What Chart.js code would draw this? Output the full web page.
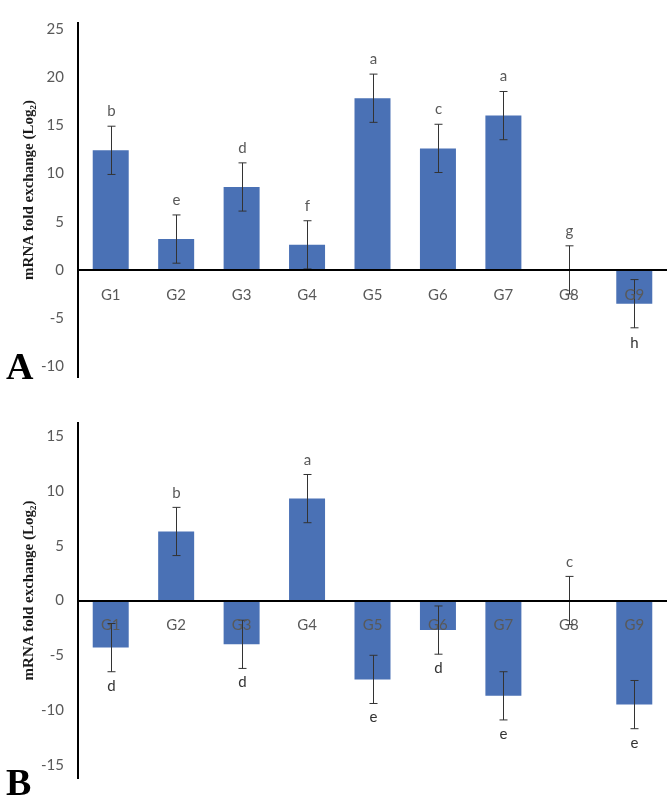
<!DOCTYPE html>
<html><head><meta charset="utf-8">
<script src="https://cdn.jsdelivr.net/npm/chart.js@4.4.0/dist/chart.umd.min.js"></script>
<style>
html,body{margin:0;padding:0;background:#fff;}
#wrap{position:relative;width:667px;height:801px;overflow:hidden;}
.box{position:absolute;left:0;width:667px;}
</style></head><body>
<div id="wrap">
<div class="box" style="top:0;height:400px"><canvas id="cA"></canvas></div>
<div class="box" style="top:400px;height:401px"><canvas id="cB"></canvas></div>
</div>
<script>
const categories = ['G1','G2','G3','G4','G5','G6','G7','G8','G9'];

const valuesA = [12.4, 3.2, 8.6, 2.6, 17.8, 12.6, 16.0, 0, -3.5];
const errorsA = [2.5, 2.5, 2.5, 2.5, 2.5, 2.5, 2.5, 2.5, 2.5];
const lettersA = ['b','e','d','f','a','c','a','g','h'];
const ticksA = [-10, -5, 0, 5, 10, 15, 20, 25];

const valuesB = [-4.3, 6.3, -4.0, 9.3, -7.2, -2.7, -8.7, 0, -9.5];
const errorsB = [2.2, 2.2, 2.2, 2.2, 2.2, 2.2, 2.2, 2.2, 2.2];
const lettersB = ['d','b','d','a','e','d','e','c','e'];
const ticksB = [-15, -10, -5, 0, 5, 10, 15];

const yTitle = 'mRNA fold exchange (Log\u2082)';

const BAR = '#4A71B5';
const TXT = '#595959';

function overlay(errors, letters, panelLabel, titleShift, letterOffset, labelBaseline) {
  return {
    id: 'overlay' + panelLabel,
    afterDatasetsDraw(chart) {
      const ctx = chart.ctx, xs = chart.scales.x, ys = chart.scales.y;
      const vals = chart.data.datasets[0].data;
      ctx.save();
      ctx.strokeStyle = '#333333';
      ctx.lineWidth = 1;
      vals.forEach((v, i) => {
        const x = Math.round(xs.getPixelForValue(i)) + 0.5;
        const yt = ys.getPixelForValue(v + errors[i]);
        const yb = ys.getPixelForValue(v - errors[i]);
        ctx.beginPath();
        ctx.moveTo(x, yt); ctx.lineTo(x, yb);
        ctx.moveTo(x - 4, yt); ctx.lineTo(x + 4, yt);
        ctx.moveTo(x - 4, yb); ctx.lineTo(x + 4, yb);
        ctx.stroke();
        ctx.font = '15px Lato';
        ctx.textAlign = 'center';
        ctx.textBaseline = 'middle';
        if (v >= 0) {
          ctx.fillStyle = TXT;
          ctx.fillText(letters[i], x, yt - letterOffset);
        } else {
          ctx.fillStyle = '#333333';
          ctx.fillText(letters[i], x, yb + letterOffset);
        }
      });
      ctx.restore();
    },
    afterDraw(chart) {
      const ctx = chart.ctx, ca = chart.chartArea;
      ctx.save();
      ctx.fillStyle = '#1a1a1a';
      ctx.font = 'bold 15px "Liberation Serif"';
      ctx.textAlign = 'center';
      ctx.textBaseline = 'middle';
      ctx.translate(29, (ca.top + ca.bottom) / 2 - titleShift);
      ctx.rotate(-Math.PI / 2);
      ctx.fillText(yTitle, 0, 0);
      ctx.restore();
      ctx.save();
      ctx.fillStyle = '#000';
      ctx.font = 'bold 38px "Liberation Serif"';
      ctx.textAlign = 'left';
      ctx.textBaseline = 'alphabetic';
      ctx.fillText(panelLabel, 6, labelBaseline);
      ctx.restore();
    }
  };
}

function makeChart(id, values, errors, letters, ticks, yMin, yMax, padBottom, panelLabel, letterOffset, labelBaseline) {
  return new Chart(document.getElementById(id), {
    type: 'bar',
    data: {
      labels: categories,
      datasets: [{
        data: values,
        backgroundColor: BAR,
        borderWidth: 0,
        barPercentage: 0.55,
        categoryPercentage: 1
      }]
    },
    options: {
      responsive: true,
      maintainAspectRatio: false,
      animation: false,
      layout: { padding: { top: 13, bottom: padBottom, left: 0, right: 0 } },
      plugins: { legend: { display: false }, tooltip: { enabled: false } },
      scales: {
        x: {
          position: { y: 0 },
          grid: { display: false, drawTicks: false },
          border: { color: '#000', width: 2, z: 1 },
          ticks: { color: TXT, font: { family: 'Lato', size: 15 }, padding: 16, z: 1 }
        },
        y: {
          min: yMin, max: yMax,
          grid: { display: false, drawTicks: false },
          border: { color: '#000', width: 2 },
          ticks: { color: TXT, font: { family: 'Lato', size: 15 }, padding: 14 },
          afterBuildTicks: s => { s.ticks = ticks.map(v => ({ value: v })); },
          afterFit: s => { s.width = 78; }
        }
      }
    },
    plugins: [overlay(errors, letters, panelLabel, 10, letterOffset, labelBaseline)]
  });
}

makeChart('cA', valuesA, errorsA, lettersA, ticksA, -11.1, 25.6, 14, 'A', 15, 379);
makeChart('cB', valuesB, errorsB, lettersB, ticksB, -16.2, 16.2, 4, 'B', 14, 395);
</script>
</body></html>
